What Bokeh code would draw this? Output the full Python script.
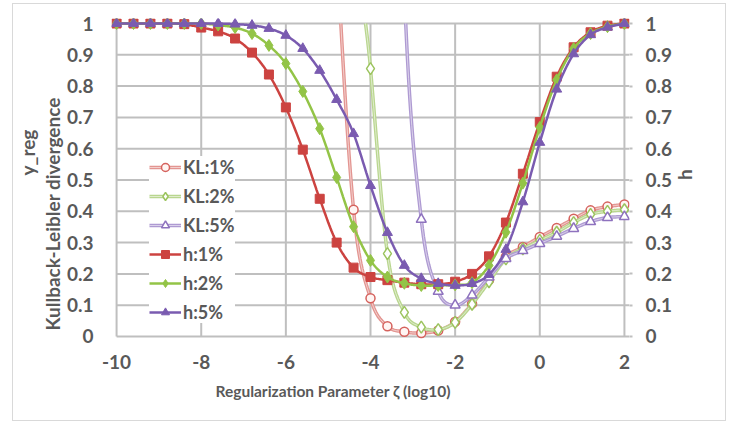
import numpy as np
from bokeh.plotting import figure
from bokeh.models import Range1d, LinearAxis, FixedTicker, Legend, LegendItem, Title
from bokeh.embed import file_html
from bokeh.resources import INLINE

nan = float("nan")

# ---- data ----
zeta = [-10.0, -9.6, -9.2, -8.8, -8.4, -8.0, -7.6, -7.2, -6.8, -6.4, -6.0, -5.6, -5.2, -4.8,
        -4.4, -4.0, -3.6, -3.2, -2.8, -2.4, -2.0, -1.6, -1.2, -0.8, -0.4, 0.0, 0.4, 0.8,
        1.2, 1.6, 2.0]

h_1 = [1.0, 1.0, 1.0, 1.0, 0.998, 0.987, 0.975, 0.952, 0.907, 0.837, 0.732, 0.597, 0.44, 0.30,
       0.22, 0.19, 0.18, 0.172, 0.167, 0.167, 0.175, 0.20, 0.256, 0.364, 0.52, 0.685, 0.83,
       0.924, 0.972, 0.993, 1.0]
h_2 = [1.0, 1.0, 1.0, 1.0, 1.0, 1.0, 0.995, 0.987, 0.968, 0.93, 0.872, 0.783, 0.664, 0.508,
       0.351, 0.243, 0.19, 0.17, 0.163, 0.163, 0.165, 0.172, 0.227, 0.333, 0.49, 0.668, 0.82,
       0.92, 0.968, 0.99, 1.0]
h_5 = [1.0, 1.0, 1.0, 1.0, 1.0, 1.0, 1.0, 0.998, 0.994, 0.984, 0.962, 0.92, 0.85, 0.757,
       0.648, 0.482, 0.332, 0.227, 0.185, 0.169, 0.163, 0.169, 0.198, 0.278, 0.43, 0.62, 0.79,
       0.903, 0.964, 0.988, 1.0]

# KL values run far above the axis maximum on the left (off-chart values estimated)
kl_1 = [nan] * 12 + [2.5, 1.25, 0.405, 0.122, 0.033, 0.015, 0.011, 0.019, 0.047, 0.105,
                     0.18, 0.255, 0.286, 0.318, 0.347, 0.376, 0.403, 0.415, 0.422]
kl_2 = [nan] * 13 + [3.5, 1.5, 0.856, 0.265, 0.077, 0.03, 0.022, 0.045, 0.103, 0.175,
                     0.248, 0.28, 0.307, 0.333, 0.364, 0.39, 0.40, 0.405]
kl_5 = [nan] * 16 + [3.0, 1.1, 0.374, 0.144, 0.1, 0.132, 0.19, 0.249, 0.274, 0.297, 0.32,
                     0.345, 0.367, 0.38, 0.383]

x_ticks = [-10, -8, -6, -4, -2, 0, 2]
x_labels = ["-10", "-8", "-6", "-4", "-2", "0", "2"]
y_ticks = [0, 0.1, 0.2, 0.3, 0.4, 0.5, 0.6, 0.7, 0.8, 0.9, 1]
y_labels = ["0", "0.1", "0.2", "0.3", "0.4", "0.5", "0.6", "0.7", "0.8", "0.9", "1"]

# ---- helpers: Excel-like smoothed line, clipped at the axis maximum ----
def smooth(xs, ys, n=16):
    xs = np.asarray(xs, float)
    ys = np.asarray(ys, float)
    ok = ~np.isnan(ys)
    P = np.column_stack([xs[ok], ys[ok]])
    m = len(P)
    t = np.linspace(0, 1, n + 1)[:, None]
    out = []
    for i in range(m - 1):
        p0 = P[i - 1] if i > 0 else P[i]
        p3 = P[i + 2] if i + 2 < m else P[i + 1]
        c1 = P[i] + (P[i + 1] - p0) / 6.0
        c2 = P[i + 1] - (p3 - P[i]) / 6.0
        seg = (1 - t) ** 3 * P[i] + 3 * (1 - t) ** 2 * t * c1 + 3 * (1 - t) * t ** 2 * c2 + t ** 3 * P[i + 1]
        out.append(seg if i == 0 else seg[1:])
    d = np.vstack(out)
    return d[:, 0], d[:, 1]


def clip_top(x, y, top=1.0):
    ox, oy = [], []
    for i in range(len(x)):
        if i > 0:
            y0, y1 = y[i - 1], y[i]
            if (y0 > top) != (y1 > top):
                xc = x[i - 1] + (top - y0) * (x[i] - x[i - 1]) / (y1 - y0)
                ox.append(xc)
                oy.append(top)
                if y1 > top:
                    ox.append(nan)
                    oy.append(nan)
        if y[i] <= top:
            ox.append(x[i])
            oy.append(y[i])
    return ox, oy


def visible(ys, top=1.0):
    return [v if (v == v and v <= top) else nan for v in ys]


FONT = "Lato"
TXT = "#595959"
GRID = "#BFBFBF"

p = figure(width=714, height=418, output_backend="svg", toolbar_location=None,
           x_range=Range1d(-10.12, 2.12), y_range=Range1d(-0.016, 1.016),
           min_border_left=94, min_border_right=98, min_border_top=14, min_border_bottom=81)
p.styles = {"border": "1px solid #D9D9D9", "margin-left": "12px", "margin-top": "3px"}
p.xgrid.visible = False
p.ygrid.visible = False
p.outline_line_color = None
p.background_fill_color = "white"
p.border_fill_color = "white"

# gridlines
x_end = p.x_range.end
p.segment(x0=[x_ticks[0]] * len(y_ticks), x1=[x_end] * len(y_ticks), y0=y_ticks, y1=y_ticks,
          line_color=GRID, line_width=2)
p.segment(x0=x_ticks, x1=x_ticks, y0=[y_ticks[0]] * len(x_ticks), y1=[y_ticks[-1]] * len(x_ticks),
          line_color=GRID, line_width=2)

# axes
def style_axis(ax):
    ax.ticker = FixedTicker(ticks=y_ticks)
    ax.major_label_overrides = dict(zip(y_ticks, y_labels))
    ax.axis_line_color = None
    ax.minor_tick_line_color = None
    ax.major_label_text_font = FONT
    ax.major_label_text_font_style = "bold"
    ax.major_label_text_font_size = "19px"
    ax.major_label_text_color = TXT

style_axis(p.yaxis[0])
p.yaxis[0].major_tick_line_color = None
p.yaxis[0].major_label_standoff = 12

ry = LinearAxis()
style_axis(ry)
ry.major_tick_line_color = GRID
ry.major_tick_line_width = 2
ry.major_tick_out = 3
ry.major_tick_in = 0
ry.major_label_standoff = 13
ry.axis_label = "h"
ry.axis_label_orientation = np.pi / 2
ry.axis_label_standoff = 9
ry.axis_label_text_font = FONT
ry.axis_label_text_font_style = "bold"
ry.axis_label_text_font_size = "19px"
ry.axis_label_text_color = TXT
p.add_layout(ry, "right")

xa = p.xaxis[0]
xa.ticker = FixedTicker(ticks=x_ticks)
xa.major_label_overrides = dict(zip(x_ticks, x_labels))
xa.axis_line_color = None
xa.major_tick_line_color = None
xa.minor_tick_line_color = None
xa.major_label_standoff = 7
xa.major_label_text_font = FONT
xa.major_label_text_font_style = "bold"
xa.major_label_text_font_size = "19px"
xa.major_label_text_color = TXT

# ---- series ----
series = [
    ("KL:1%", kl_1, "#E39591", "#D5625D", "circle", 9, True),
    ("KL:2%", kl_2, "#B9D68F", "#9CC45F", "diamond", 12, True),
    ("KL:5%", kl_5, "#AE9AD2", "#8E72BE", "triangle", 10, True),
    ("h:1%", h_1, "#CC4340", "#CC4340", "square", 9, False),
    ("h:2%", h_2, "#93C447", "#93C447", "diamond", 12, False),
    ("h:5%", h_5, "#7A5BB0", "#7A5BB0", "triangle", 10, False),
]

items = []
for name, ys, lcol, mcol, marker, msize, is_kl in series:
    sx, sy = smooth(zeta, ys)
    rs = []
    if is_kl:
        cx, cy = clip_top(sx, sy)
        rs.append(p.line(cx, cy, line_color=lcol, line_width=3.5))
        rs.append(p.line(cx, cy, line_color="white", line_width=1, line_alpha=0.55))
        rs.append(p.scatter(zeta, visible(ys), marker=marker, size=msize, line_color=mcol,
                            line_width=1.5, fill_color="#FFF5F3" if name == "KL:1%" else "white"))
    else:
        rs.append(p.line(sx, sy, line_color=lcol, line_width=2.5))
        rs.append(p.scatter(zeta, visible(ys), marker=marker, size=msize, line_color=mcol,
                            fill_color=mcol, line_width=1))
    items.append(LegendItem(label=name, renderers=rs))

legend = Legend(items=items, location=(38, 18), orientation="vertical",
                background_fill_color="white", background_fill_alpha=1.0,
                border_line_color=None, padding=6, spacing=7, margin=0,
                label_height=20, glyph_height=20, glyph_width=32, label_standoff=2,
                label_text_font=FONT, label_text_font_style="bold",
                label_text_font_size="18px", label_text_color=TXT)
p.add_layout(legend, "center")

# ---- axis titles ----
def side_title(text, side, offset, size="19px", standoff=0):
    p.add_layout(Title(text=text, align="left", offset=offset, standoff=standoff,
                       text_font=FONT, text_font_style="bold", text_font_size=size,
                       text_color=TXT), side)

side_title("Regularization Parameter ζ (log10)", "below", 104, size="15.5px", standoff=16)
side_title("Kullback-Leibler divergence", "left", 11)
side_title("y_reg", "left", 166)

open("out.html", "w").write(file_html(p, INLINE))
